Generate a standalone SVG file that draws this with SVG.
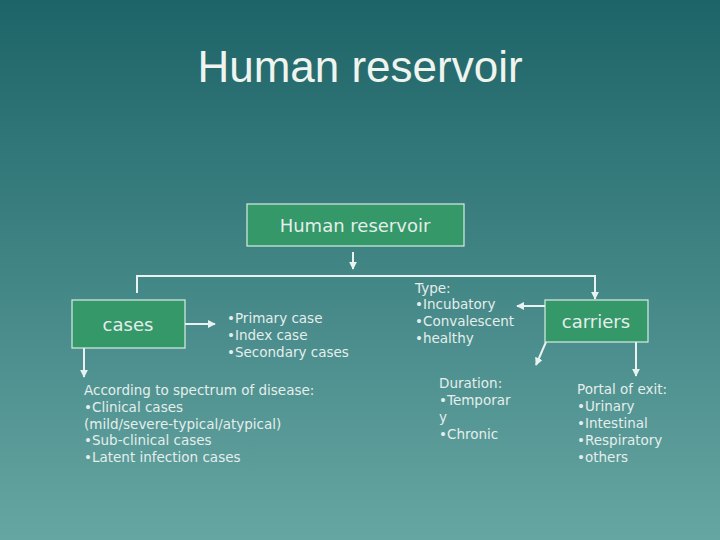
<svg xmlns="http://www.w3.org/2000/svg" width="720" height="540" viewBox="0 0 720 540">
<defs>
<linearGradient id="bg" x1="0" y1="0" x2="0" y2="1"><stop offset="0" stop-color="#1d6468"/><stop offset="1" stop-color="#66a6a2"/></linearGradient>
<marker id="ah" viewBox="0 0 10 10" refX="9" refY="5" markerWidth="4" markerHeight="4" orient="auto"><path d="M0,0 L10,5 L0,10 z" fill="#e8f2f0"/></marker>
<style>
.box{fill:#359868;stroke:#d8ece4;stroke-width:1.2}
.t{font-family:"DejaVu Sans",Verdana,sans-serif;font-size:13.5px;fill:#e4eeec}
.b{font-size:18px}
.c{stroke:#e8f2f0;stroke-width:2;fill:none}
</style>
</defs>
<rect width="720" height="540" fill="url(#bg)"/>
<text x="360" y="82" text-anchor="middle" font-family="Liberation Sans,Arial,sans-serif" font-size="44" fill="#f0f4ee">Human reservoir</text>
<g id="connectors">
<path class="c" d="M353,252 V269" marker-end="url(#ah)"/>
<path class="c" d="M137,293 V276 H595 V299" marker-end="url(#ah)"/>
<path class="c" d="M185,324 H215" marker-end="url(#ah)"/>
<path class="c" d="M545,306 H517" marker-end="url(#ah)"/>
<path class="c" d="M546,342 L536,365" marker-end="url(#ah)"/>
<path class="c" d="M636,342 V376" marker-end="url(#ah)"/>
<path class="c" d="M84,348 V377" marker-end="url(#ah)"/>
</g>
<g id="root"><rect class="box" x="247" y="204" width="217" height="42"/><text class="t b" x="355" y="232" text-anchor="middle">Human reservoir</text></g>
<g id="cases"><rect class="box" x="72" y="300" width="113" height="48"/><text class="t b" x="128" y="331" text-anchor="middle">cases</text></g>
<g id="carriers"><rect class="box" x="545" y="300" width="103" height="42"/><text class="t b" x="596" y="328" text-anchor="middle">carriers</text></g>
<g id="caselist"><text class="t"><tspan x="227" y="323">•Primary case</tspan><tspan x="227" y="340">•Index case</tspan><tspan x="227" y="357">•Secondary cases</tspan></text></g>
<g id="type"><text class="t"><tspan x="415" y="293">Type:</tspan><tspan x="415" y="309">•Incubatory</tspan><tspan x="415" y="326">•Convalescent</tspan><tspan x="415" y="343">•healthy</tspan></text></g>
<g id="spectrum"><text class="t"><tspan x="84" y="395">According to spectrum of disease:</tspan><tspan x="84" y="412">•Clinical cases</tspan><tspan x="84" y="429">(mild/severe-typical/atypical)</tspan><tspan x="84" y="445">•Sub-clinical cases</tspan><tspan x="84" y="462">•Latent infection cases</tspan></text></g>
<g id="duration"><text class="t"><tspan x="439" y="388">Duration:</tspan><tspan x="439" y="405">•Temporar</tspan><tspan x="439" y="422">y</tspan><tspan x="439" y="439">•Chronic</tspan></text></g>
<g id="portal"><text class="t"><tspan x="577" y="394">Portal of exit:</tspan><tspan x="577" y="411">•Urinary</tspan><tspan x="577" y="428">•Intestinal</tspan><tspan x="577" y="445">•Respiratory</tspan><tspan x="577" y="462">•others</tspan></text></g>
</svg>
